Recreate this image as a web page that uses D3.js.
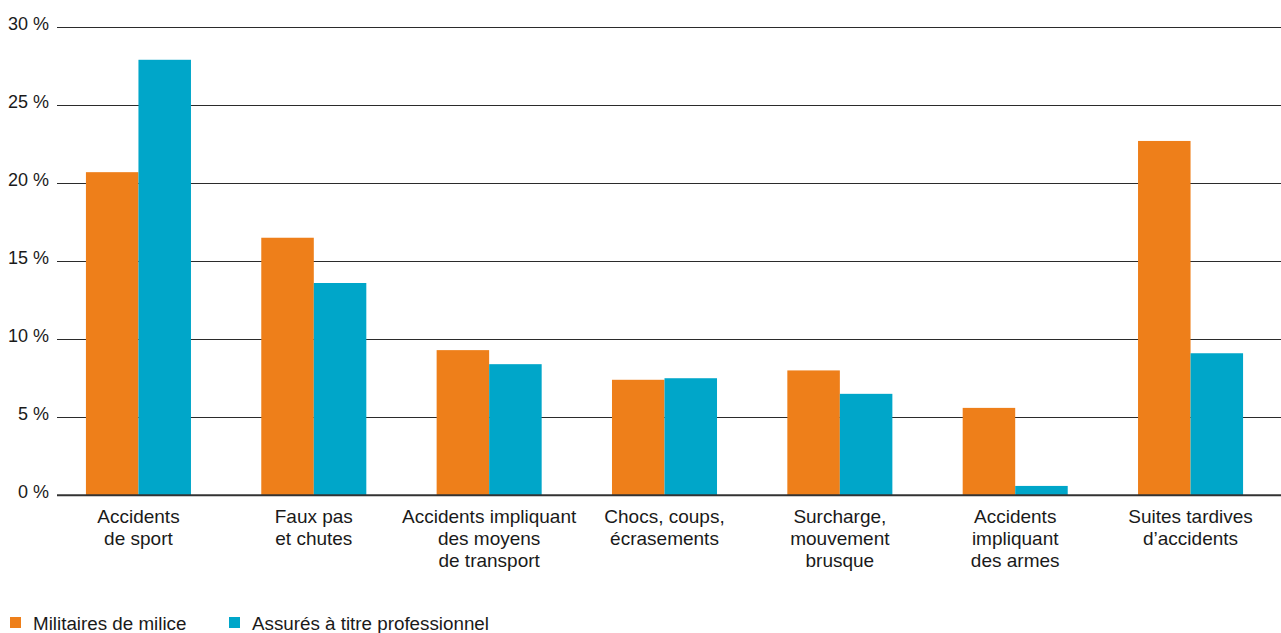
<!DOCTYPE html>
<html>
<head>
<meta charset="utf-8">
<script src="https://cdn.jsdelivr.net/npm/d3@7"></script>
<style>
  html, body { margin: 0; padding: 0; background: #fff; }
  svg { display: block; font-family: "Liberation Sans", Arial, Helvetica, sans-serif; }
</style>
</head>
<body>
<svg id="chart" width="1281" height="633"></svg>
<script>
const categories = [
  ["Accidents", "de sport"],
  ["Faux pas", "et chutes"],
  ["Accidents impliquant", "des moyens", "de transport"],
  ["Chocs, coups,", "écrasements"],
  ["Surcharge,", "mouvement", "brusque"],
  ["Accidents", "impliquant", "des armes"],
  ["Suites tardives", "d’accidents"]
];
const seriesNames = ["Militaires de milice", "Assurés à titre professionnel"];
const milice = [20.7, 16.5, 9.3, 7.4, 8.0, 5.6, 22.7];
const professionnel = [27.9, 13.6, 8.4, 7.5, 6.5, 0.6, 9.1];
const yTicks = [0, 5, 10, 15, 20, 25, 30];
const colors = ["#ee7f1a", "#00a6c9"];

const svg = d3.select("#chart");
const plotLeft = 57, plotRight = 1281, plotTop = 27, plotBottom = 495.3;

const y = d3.scaleLinear().domain([0, 30]).range([plotBottom, plotTop]);
const catIdx = categories.map((d, i) => i);
const x0 = d3.scaleBand().domain(catIdx).range([57, 1272]).paddingInner(0.401).paddingOuter(0.165);
const x1 = d3.scaleBand().domain([0, 1]).range([0, x0.bandwidth()]);

// y axis labels
const yAxis = d3.axisLeft(y).tickValues(yTicks).tickSize(0).tickFormat(d => d + " %");
const gAxis = svg.append("g").attr("transform", `translate(${plotLeft},0)`).call(yAxis);
gAxis.select(".domain").remove();
gAxis.selectAll("text")
  .attr("x", -8)
  .attr("dy", null)
  .attr("transform", "translate(0,2)")
  .attr("font-size", 18)
  .attr("font-family", "'Liberation Sans', Arial, sans-serif")
  .attr("fill", "#1a1a1a");

// gridlines
svg.append("g").selectAll("line")
  .data(yTicks.filter(t => t !== 0))
  .join("line")
  .attr("x1", plotLeft).attr("x2", plotRight)
  .attr("y1", d => Math.round(y(d)) + 0.5).attr("y2", d => Math.round(y(d)) + 0.5)
  .attr("stroke", "#2b2b2b").attr("stroke-width", 1);

// bars
const series = [milice, professionnel];
const groups = svg.append("g").selectAll("g")
  .data(catIdx).join("g")
  .attr("transform", i => `translate(${x0(i)},0)`);
groups.selectAll("rect")
  .data(i => series.map((s, k) => ({k, v: s[i]})))
  .join("rect")
  .attr("x", d => x1(d.k))
  .attr("width", x1.bandwidth())
  .attr("y", d => y(d.v))
  .attr("height", d => y(0) - y(d.v))
  .attr("fill", d => colors[d.k]);

// baseline
svg.append("line")
  .attr("x1", plotLeft).attr("x2", plotRight)
  .attr("y1", y(0)).attr("y2", y(0))
  .attr("stroke", "#333").attr("stroke-width", 2);

// category labels
const xAxis = d3.axisBottom(x0).tickSize(0).tickFormat("");
const gx = svg.append("g").attr("transform", `translate(0,${y(0)})`).call(xAxis);
gx.select(".domain").remove();
gx.selectAll(".tick").append("text")
  .attr("text-anchor", "middle")
  .attr("font-size", 19)
  .attr("fill", "#1a1a1a")
  .selectAll("tspan")
  .data(i => categories[i])
  .join("tspan")
  .attr("x", 0)
  .attr("y", (d, j) => 28 + j * 22)
  .text(d => d);

// legend
const legendX = [10, 229];
const legend = svg.append("g").selectAll("g")
  .data(seriesNames).join("g")
  .attr("transform", (d, i) => `translate(${legendX[i]},617)`);
legend.append("rect").attr("width", 11).attr("height", 11).attr("fill", (d, i) => colors[i]);
legend.append("text").attr("x", 23).attr("y", 13)
  .attr("font-size", 18.8).attr("fill", "#1a1a1a").text(d => d);
</script>
</body>
</html>
